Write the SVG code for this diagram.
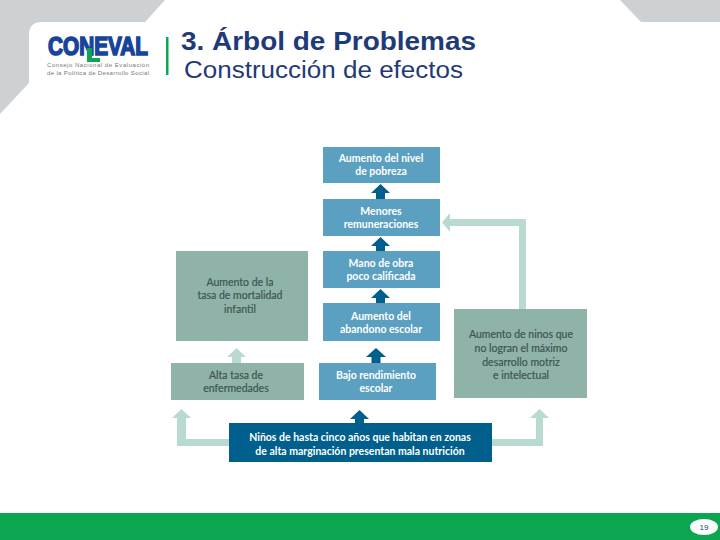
<svg xmlns="http://www.w3.org/2000/svg" width="720" height="540" viewBox="0 0 720 540">
<style>
.blue{fill:#5ba0c0}
.sage{fill:#8fb3a9}
.navy{fill:#005f8c}
.dk{fill:#005f8c}
.pale{fill:#b9dad1}
text{font-family:"Lato","Liberation Sans",sans-serif;text-anchor:middle}
.w{fill:#fff;font-size:10.5px;font-weight:700}
.g{fill:#3d5650;font-size:10.5px;font-weight:400;stroke:#3d5650;stroke-width:.2px}
.h{font-family:"Liberation Sans",Arial,sans-serif;text-anchor:start;fill:#1f3a78}
.logo{font-family:"Liberation Sans",Arial,sans-serif;font-weight:700;fill:#17449a;stroke:#17449a;stroke-width:1.600px;font-size:25px;text-anchor:start}
.sub{font-family:"Liberation Sans",Arial,sans-serif;fill:#777;font-size:6px;text-anchor:start}
</style>
<rect width="720" height="540" fill="#fff"/>
<g id="background">
<path d="M0 0H165L145 22H42Q29 22 29 35V83L0 114Z" fill="#cdd1d4"/>
<path d="M620 0L641 22H720V0Z" fill="#cdd1d4"/>
<rect y="513" width="720" height="27" fill="#0ba64f"/>
<ellipse cx="704" cy="527" rx="14" ry="8" fill="#fff"/>
<text x="704" y="530" style="font-size:8px;fill:#1f3a78;font-family:'Liberation Sans',sans-serif">19</text>
</g>
<g id="logo">
<text class="logo" x="48" y="55" textLength="100" lengthAdjust="spacingAndGlyphs">CONEVAL</text>
<path d="M87 48H92V58H100V62H87Z" fill="#0ba64f"/>
<text class="sub" x="47" y="67" textLength="102" lengthAdjust="spacing">Consejo Nacional de Evaluación</text>
<text class="sub" x="47" y="75" textLength="102" lengthAdjust="spacing">de la Política de Desarrollo Social</text>
<rect x="166" y="37" width="2.500" height="38" fill="#0ba64f"/>
</g>
<g id="title">
<text class="h" x="181" y="50" style="font-size:26.500px;font-weight:700" textLength="295" lengthAdjust="spacingAndGlyphs">3. Árbol de Problemas</text>
<text class="h" x="184" y="78" style="font-size:23.500px" textLength="279" lengthAdjust="spacingAndGlyphs">Construcción de efectos</text>
</g>
<g id="connectors">
<path class="dk" d="M380.500 184L390 193H385V199H376V193H371Z"/>
<path class="dk" d="M380.500 237L390 246H385V251H376V246H371Z"/>
<path class="dk" d="M380.500 289L390 298H385V303H376V298H371Z"/>
<path class="dk" d="M376 348L386 357H380.500V363H371.500V357H366Z"/>
<path class="dk" d="M359.500 410L369 419H364V423H355V419H350Z"/>
<path class="pale" d="M236.500 348L246 357H241V363H232V357H227Z"/>
<path class="pale" d="M181.500 409L191 418H186V439H229V446H177V418H172Z"/>
<path class="pale" d="M539.500 409L549 418H543V446H492V439H536V418H530Z"/>
<path class="pale" d="M442 222.500L450 213V219H526V309H519V226H450V232Z"/>
</g>
<g id="n1"><rect class="blue" x="323" y="147" width="117" height="36"/><text class="w" x="381" y="162">Aumento del nivel</text><text class="w" x="381" y="175">de pobreza</text></g>
<g id="n2"><rect class="blue" x="323" y="199" width="117" height="37"/><text class="w" x="381" y="215">Menores</text><text class="w" x="381" y="228">remuneraciones</text></g>
<g id="n3"><rect class="blue" x="323" y="251" width="117" height="37"/><text class="w" x="381" y="267">Mano de obra</text><text class="w" x="381" y="280">poco calificada</text></g>
<g id="n4"><rect class="blue" x="323" y="303" width="117" height="38"/><text class="w" x="381" y="320">Aumento del</text><text class="w" x="381" y="333">abandono escolar</text></g>
<g id="n5"><rect class="blue" x="319" y="363" width="117" height="37"/><text class="w" x="376" y="379">Bajo rendimiento</text><text class="w" x="376" y="392">escolar</text></g>
<g id="n6"><rect class="sage" x="176" y="251" width="132" height="90"/><text class="g" x="240" y="286">Aumento de la</text><text class="g" x="240" y="299">tasa de mortalidad</text><text class="g" x="240" y="313">infantil</text></g>
<g id="n7"><rect class="sage" x="171" y="363" width="133" height="37"/><text class="g" x="236" y="379">Alta tasa de</text><text class="g" x="236" y="392">enfermedades</text></g>
<g id="n8"><rect class="sage" x="454" y="309" width="133" height="89"/><text class="g" x="521" y="338">Aumento de ninos que</text><text class="g" x="521" y="352">no logran el máximo</text><text class="g" x="521" y="366">desarrollo motriz</text><text class="g" x="521" y="379">e intelectual</text></g>
<g id="n9"><rect class="navy" x="229" y="423" width="263" height="39"/><text class="w" x="360" y="441">Niños de hasta cinco años que habitan en zonas</text><text class="w" x="360" y="455">de alta marginación presentan mala nutrición</text></g>
</svg>
